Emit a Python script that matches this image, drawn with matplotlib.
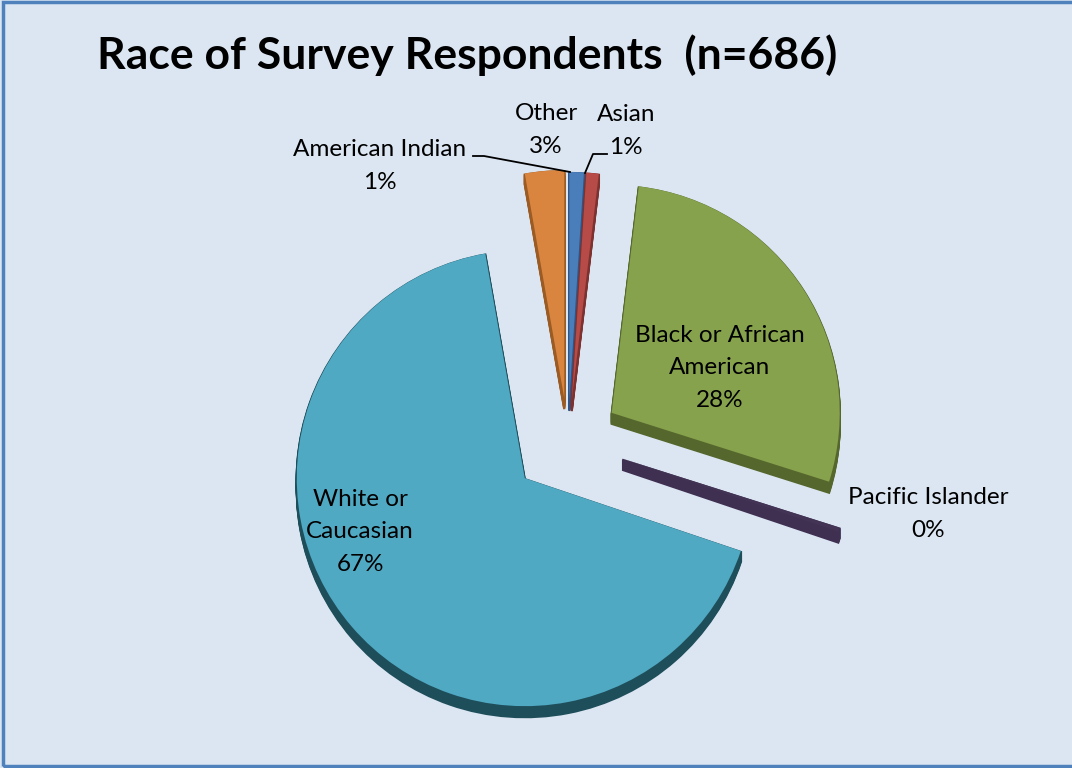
import matplotlib.pyplot as plt
from matplotlib.patches import Rectangle

# data (counts, n=686) in the order the pie is drawn (clockwise from 12 o'clock)
categories = ['American Indian', 'Asian', 'Black or African\nAmerican', 'Pacific Islander',
              'White or\nCaucasian', 'Other']
counts = [7, 6, 192, 2, 460, 19]
pct_labels = ['1%', '1%', '28%', '0%', '67%', '3%']

top_colors = ['#4A7EBB', '#B64B48', '#86A24C', '#433456', '#4FA9C3', '#D9853F']
side_colors = ['#2E5585', '#7E3230', '#56672E', '#3F3052', '#1F4E5B', '#9A5B24']
explode = [41, 41, 52, 57, 57, 43]

W, H = 1072, 768
plt.rcParams['font.family'] = ['Lato', 'DejaVu Sans']

fig = plt.figure(figsize=(W / 100, H / 100), dpi=100)
fig.patch.set_facecolor('#DCE6F2')
ax = fig.add_axes([0, 0, 1, 1])

cx, cy, R = 568, H - 441, 228
depth = 11

# side of the 3d pie: stacked darker copies shifted downward
for k in range(depth, 0, -1):
    wedges, _ = ax.pie(counts, explode=explode, colors=side_colors, center=(cx, cy - k),
                       radius=R, startangle=90, counterclock=False,
                       wedgeprops=dict(linewidth=1.6))
    for w in wedges:
        w.set_edgecolor(w.get_facecolor())
ax.pie(counts, explode=explode, colors=top_colors, center=(cx, cy), radius=R,
       startangle=90, counterclock=False, wedgeprops=dict(linewidth=0))

ax.set_xlim(0, W)
ax.set_ylim(0, H)
ax.set_aspect('auto')
ax.axis('off')

# border
ax.add_patch(Rectangle((3, 2), W + 10, H - 4, fill=False, edgecolor='#4F81BD', lw=2.5))

ax.text(97, H - 55, 'Race of Survey Respondents  (n=686)', fontsize=32, fontweight='bold',
        ha='left', va='center')

fs = 17.5
lbl = dict(fontsize=fs, ha='center', va='center', linespacing=1.68, multialignment='center')
# label positions in pixel coords (x, y from top)
pos = [(380, 166), (626, 131), (720, 368), (928, 514), (360, 532), (546, 130)]
for name, p, (x, y) in zip(categories, pct_labels, pos):
    ax.text(x, H - y, name + '\n' + p, **lbl)

# leader lines
ax.plot([473, 484, 570], [H - 156, H - 156, H - 172], color='black', lw=1.3)
ax.plot([607, 593, 585], [H - 154, H - 154, H - 173], color='black', lw=1.3)

fig.savefig('out.png', dpi=100, facecolor=fig.get_facecolor())
